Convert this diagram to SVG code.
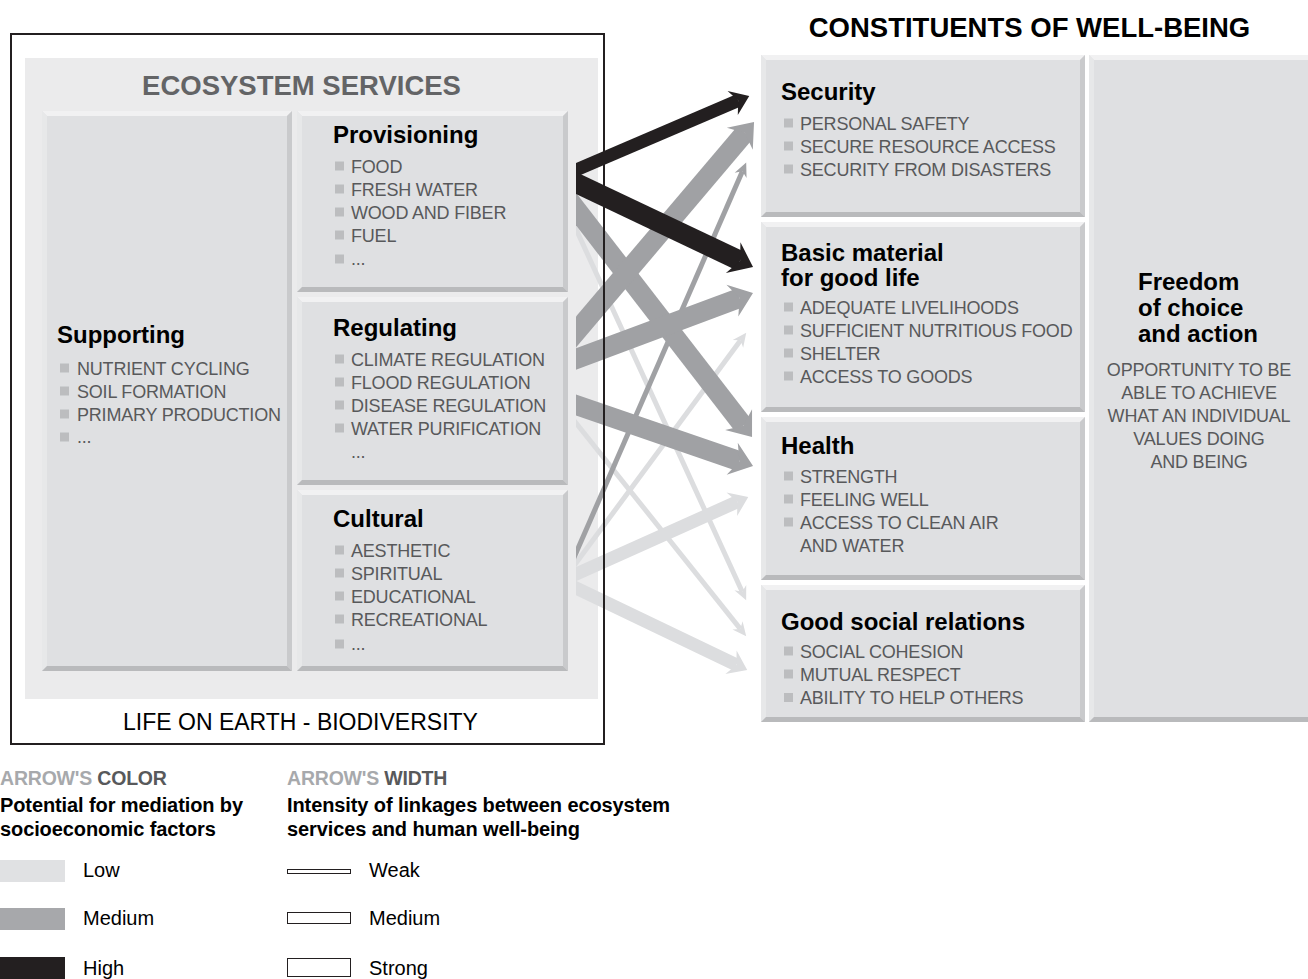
<svg xmlns="http://www.w3.org/2000/svg" width="1308" height="979" viewBox="0 0 1308 979">
<style>
text{font-family:"Liberation Sans",Arial,sans-serif}
.panel{fill:#ebebec}
.bx{fill:#dfe0e2}
.bt{fill:#f1f1f2}
.bl{fill:#e7e8e9}
.br{fill:#c9cacc}
.bb{fill:#b9babc}
.ttl{font-weight:bold;font-size:24px;fill:#000}
.it{font-size:18px;fill:#58595b;letter-spacing:-0.2px}
.bul{fill:#bcbdbf}
.hd{font-weight:bold;font-size:27.5px}
.arr{fill:none;stroke-linecap:butt}
.k{stroke:#231f20}.g{stroke:#a0a1a4}.l{stroke:#dcdddf}
.s{stroke-width:20}.m{stroke-width:13}.w{stroke-width:5}
.lg{font-size:20px;fill:#000}
.lgb{font-size:20px;font-weight:bold;fill:#000;letter-spacing:-0.1px}
.lgh{font-size:19.5px;font-weight:bold;letter-spacing:-0.2px}
</style>
<defs>
<marker id="hk-m" markerUnits="userSpaceOnUse" orient="auto" refX="6" refY="0" markerWidth="20" markerHeight="30" viewBox="0 -15 20 30" overflow="visible"><path d="M18 0L0 -13L6 0L0 13Z" fill="#231f20"/></marker>
<marker id="hk-s" markerUnits="userSpaceOnUse" orient="auto" refX="7.7" refY="0" markerWidth="24" markerHeight="36" viewBox="0 -18 24 36" overflow="visible"><path d="M22 0L0 -17L7.7 0L0 17Z" fill="#231f20"/></marker>
<marker id="hg-s" markerUnits="userSpaceOnUse" orient="auto" refX="7.7" refY="0" markerWidth="24" markerHeight="36" viewBox="0 -18 24 36" overflow="visible"><path d="M22 0L0 -17L7.7 0L0 17Z" fill="#a0a1a4"/></marker>
<marker id="hg-w" markerUnits="userSpaceOnUse" orient="auto" refX="4.5" refY="0" markerWidth="16" markerHeight="16" viewBox="0 -8 16 16" overflow="visible"><path d="M14 0L0 -6.5L4.5 0L0 6.5Z" fill="#a0a1a4"/></marker>
<marker id="hl-w" markerUnits="userSpaceOnUse" orient="auto" refX="4.5" refY="0" markerWidth="16" markerHeight="16" viewBox="0 -8 16 16" overflow="visible"><path d="M14 0L0 -6.5L4.5 0L0 6.5Z" fill="#dcdddf"/></marker>
<marker id="hl-m" markerUnits="userSpaceOnUse" orient="auto" refX="6" refY="0" markerWidth="20" markerHeight="30" viewBox="0 -15 20 30" overflow="visible"><path d="M18 0L0 -13L6 0L0 13Z" fill="#dcdddf"/></marker>
<clipPath id="clipR"><rect x="576" y="0" width="732" height="979"/></clipPath>
</defs>
<rect width="1308" height="979" fill="#fff"/>

<g id="ecosystem-services">
<rect class="panel" x="25" y="58" width="573" height="641"/>
<text class="hd" x="301.5" y="95" text-anchor="middle" fill="#636466">ECOSYSTEM SERVICES</text>
</g>

<g id="supporting">
<rect class="bx" x="42" y="111" width="250" height="560"/>
<polygon class="bt" points="42,111 292,111 287,116 47,116"/>
<polygon class="bl" points="42,111 47,116 47,666 42,671"/>
<polygon class="br" points="292,111 292,671 287,666 287,116"/>
<polygon class="bb" points="42,671 292,671 287,666 47,666"/>
<text class="ttl" x="57" y="343">Supporting</text>
<rect class="bul" x="60" y="363.5" width="9" height="9"/><text class="it" x="77" y="374.5">NUTRIENT CYCLING</text>
<rect class="bul" x="60" y="386.5" width="9" height="9"/><text class="it" x="77" y="397.5">SOIL FORMATION</text>
<rect class="bul" x="60" y="409.5" width="9" height="9"/><text class="it" x="77" y="420.5">PRIMARY PRODUCTION</text>
<rect class="bul" x="60" y="432.5" width="9" height="9"/><text class="it" x="77" y="443">...</text>
</g>

<g id="provisioning">
<rect class="bx" x="297" y="111" width="271" height="181"/>
<polygon class="bt" points="297,111 568,111 563,116 302,116"/>
<polygon class="bl" points="297,111 302,116 302,287 297,292"/>
<polygon class="br" points="568,111 568,292 563,287 563,116"/>
<polygon class="bb" points="297,292 568,292 563,287 302,287"/>
<text class="ttl" x="333" y="143">Provisioning</text>
<rect class="bul" x="335" y="161.5" width="9" height="9"/><text class="it" x="351" y="172.5">FOOD</text>
<rect class="bul" x="335" y="184.5" width="9" height="9"/><text class="it" x="351" y="195.5">FRESH WATER</text>
<rect class="bul" x="335" y="207.5" width="9" height="9"/><text class="it" x="351" y="218.5">WOOD AND FIBER</text>
<rect class="bul" x="335" y="230.5" width="9" height="9"/><text class="it" x="351" y="241.5">FUEL</text>
<rect class="bul" x="335" y="254.5" width="9" height="9"/><text class="it" x="351" y="265">...</text>
</g>

<g id="regulating">
<rect class="bx" x="297" y="297" width="271" height="188"/>
<polygon class="bt" points="297,297 568,297 563,302 302,302"/>
<polygon class="bl" points="297,297 302,302 302,480 297,485"/>
<polygon class="br" points="568,297 568,485 563,480 563,302"/>
<polygon class="bb" points="297,485 568,485 563,480 302,480"/>
<text class="ttl" x="333" y="336">Regulating</text>
<rect class="bul" x="335" y="354.5" width="9" height="9"/><text class="it" x="351" y="365.5">CLIMATE REGULATION</text>
<rect class="bul" x="335" y="377.5" width="9" height="9"/><text class="it" x="351" y="388.5">FLOOD REGULATION</text>
<rect class="bul" x="335" y="400.5" width="9" height="9"/><text class="it" x="351" y="411.5">DISEASE REGULATION</text>
<rect class="bul" x="335" y="423.5" width="9" height="9"/><text class="it" x="351" y="434.5">WATER PURIFICATION</text>
<text class="it" x="351" y="458">...</text>
</g>

<g id="cultural">
<rect class="bx" x="297" y="490" width="271" height="181"/>
<polygon class="bt" points="297,490 568,490 563,495 302,495"/>
<polygon class="bl" points="297,490 302,495 302,666 297,671"/>
<polygon class="br" points="568,490 568,671 563,666 563,495"/>
<polygon class="bb" points="297,671 568,671 563,666 302,666"/>
<text class="ttl" x="333" y="527">Cultural</text>
<rect class="bul" x="335" y="545.5" width="9" height="9"/><text class="it" x="351" y="556.5">AESTHETIC</text>
<rect class="bul" x="335" y="568.5" width="9" height="9"/><text class="it" x="351" y="579.5">SPIRITUAL</text>
<rect class="bul" x="335" y="591.5" width="9" height="9"/><text class="it" x="351" y="602.5">EDUCATIONAL</text>
<rect class="bul" x="335" y="614.5" width="9" height="9"/><text class="it" x="351" y="625.5">RECREATIONAL</text>
<rect class="bul" x="335" y="639.5" width="9" height="9"/><text class="it" x="351" y="650">...</text>
</g>

<g id="life-on-earth">
<text x="300.5" y="730" text-anchor="middle" font-size="23" fill="#000">LIFE ON EARTH - BIODIVERSITY</text>
</g>

<g id="constituents-title">
<text class="hd" x="1029.5" y="37" text-anchor="middle" fill="#000">CONSTITUENTS OF WELL-BEING</text>
</g>

<g id="security">
<rect class="bx" x="761" y="55" width="324" height="162"/>
<polygon class="bt" points="761,55 1085,55 1080,60 766,60"/>
<polygon class="bl" points="761,55 766,60 766,212 761,217"/>
<polygon class="br" points="1085,55 1085,217 1080,212 1080,60"/>
<polygon class="bb" points="761,217 1085,217 1080,212 766,212"/>
<text class="ttl" x="781" y="100">Security</text>
<rect class="bul" x="784" y="118.5" width="9" height="9"/><text class="it" x="800" y="129.5">PERSONAL SAFETY</text>
<rect class="bul" x="784" y="141.5" width="9" height="9"/><text class="it" x="800" y="152.5">SECURE RESOURCE ACCESS</text>
<rect class="bul" x="784" y="164.5" width="9" height="9"/><text class="it" x="800" y="175.5">SECURITY FROM DISASTERS</text>
</g>

<g id="basic-material">
<rect class="bx" x="761" y="222" width="324" height="190"/>
<polygon class="bt" points="761,222 1085,222 1080,227 766,227"/>
<polygon class="bl" points="761,222 766,227 766,407 761,412"/>
<polygon class="br" points="1085,222 1085,412 1080,407 1080,227"/>
<polygon class="bb" points="761,412 1085,412 1080,407 766,407"/>
<text class="ttl" x="781" y="261">Basic material</text>
<text class="ttl" x="781" y="286">for good life</text>
<rect class="bul" x="784" y="302.5" width="9" height="9"/><text class="it" x="800" y="313.5">ADEQUATE LIVELIHOODS</text>
<rect class="bul" x="784" y="325.5" width="9" height="9"/><text class="it" x="800" y="336.5">SUFFICIENT NUTRITIOUS FOOD</text>
<rect class="bul" x="784" y="348.5" width="9" height="9"/><text class="it" x="800" y="359.5">SHELTER</text>
<rect class="bul" x="784" y="371.5" width="9" height="9"/><text class="it" x="800" y="382.5">ACCESS TO GOODS</text>
</g>

<g id="health">
<rect class="bx" x="761" y="417" width="324" height="163"/>
<polygon class="bt" points="761,417 1085,417 1080,422 766,422"/>
<polygon class="bl" points="761,417 766,422 766,575 761,580"/>
<polygon class="br" points="1085,417 1085,580 1080,575 1080,422"/>
<polygon class="bb" points="761,580 1085,580 1080,575 766,575"/>
<text class="ttl" x="781" y="454">Health</text>
<rect class="bul" x="784" y="471.5" width="9" height="9"/><text class="it" x="800" y="482.5">STRENGTH</text>
<rect class="bul" x="784" y="494.5" width="9" height="9"/><text class="it" x="800" y="505.5">FEELING WELL</text>
<rect class="bul" x="784" y="517.5" width="9" height="9"/><text class="it" x="800" y="528.5">ACCESS TO CLEAN AIR</text>
<text class="it" x="800" y="551.5">AND WATER</text>
</g>

<g id="social-relations">
<rect class="bx" x="761" y="585" width="324" height="137"/>
<polygon class="bt" points="761,585 1085,585 1080,590 766,590"/>
<polygon class="bl" points="761,585 766,590 766,717 761,722"/>
<polygon class="br" points="1085,585 1085,722 1080,717 1080,590"/>
<polygon class="bb" points="761,722 1085,722 1080,717 766,717"/>
<text class="ttl" x="781" y="630">Good social relations</text>
<rect class="bul" x="784" y="646.5" width="9" height="9"/><text class="it" x="800" y="657.5">SOCIAL COHESION</text>
<rect class="bul" x="784" y="669.5" width="9" height="9"/><text class="it" x="800" y="680.5">MUTUAL RESPECT</text>
<rect class="bul" x="784" y="693" width="9" height="9"/><text class="it" x="800" y="704">ABILITY TO HELP OTHERS</text>
</g>

<g id="freedom">
<rect class="bx" x="1089" y="55" width="224" height="667"/>
<polygon class="bt" points="1089,55 1313,55 1308,60 1094,60"/>
<polygon class="bl" points="1089,55 1094,60 1094,717 1089,722"/>
<polygon class="bb" points="1089,722 1313,722 1308,717 1094,717"/>
<text class="ttl" x="1138" y="290">Freedom</text>
<text class="ttl" x="1138" y="316">of choice</text>
<text class="ttl" x="1138" y="342">and action</text>
<g text-anchor="middle">
<text class="it" x="1199" y="375.5">OPPORTUNITY TO BE</text>
<text class="it" x="1199" y="398.5">ABLE TO ACHIEVE</text>
<text class="it" x="1199" y="421.5">WHAT AN INDIVIDUAL</text>
<text class="it" x="1199" y="444.5">VALUES DOING</text>
<text class="it" x="1199" y="467.5">AND BEING</text>
</g>
</g>

<g id="connectors" clip-path="url(#clipR)">
<line class="arr l w" x1="556" y1="185.4" x2="742.2" y2="591.7" marker-end="url(#hl-w)"/>
<line class="arr l w" x1="556" y1="397.9" x2="740.3" y2="628.9" marker-end="url(#hl-w)"/>
<line class="arr l w" x1="556" y1="590.1" x2="740.6" y2="340.3" marker-end="url(#hl-w)"/>
<line class="arr l m" x1="556" y1="583" x2="737.3" y2="501.8" marker-end="url(#hl-m)"/>
<line class="arr l m" x1="556" y1="578.4" x2="736.4" y2="664.9" marker-end="url(#hl-m)"/>
<line class="arr g w" x1="556" y1="598.9" x2="742.4" y2="171.3" marker-end="url(#hg-w)"/>
<line class="arr g s" x1="556" y1="183.1" x2="743.3" y2="425.7" marker-end="url(#hg-s)"/>
<line class="arr g s" x1="556" y1="355.6" x2="744.8" y2="132.9" marker-end="url(#hg-s)"/>
<line class="arr g s" x1="556" y1="366.5" x2="739.6" y2="298" marker-end="url(#hg-s)"/>
<line class="arr g s" x1="556" y1="398.1" x2="739.5" y2="461.3" marker-end="url(#hg-s)"/>
<line class="arr k m" x1="556" y1="178.6" x2="738.2" y2="100.6" marker-end="url(#hk-m)"/>
<line class="arr k s" x1="556" y1="173.5" x2="740.1" y2="260.9" marker-end="url(#hk-s)"/>
</g>

<g id="frame">
<rect x="11" y="34" width="593" height="710" fill="none" stroke="#231f20" stroke-width="2"/>
</g>

<g id="legend-color">
<text class="lgh" x="0" y="785"><tspan fill="#a7a9ac">ARROW'S </tspan><tspan fill="#58595b">COLOR</tspan></text>
<text class="lgb" x="0" y="812">Potential for mediation by</text>
<text class="lgb" x="0" y="836">socioeconomic factors</text>
<rect x="0" y="860" width="65" height="22" fill="#e0e1e3"/>
<text class="lg" x="83" y="877">Low</text>
<rect x="0" y="908" width="65" height="22" fill="#a7a8ab"/>
<text class="lg" x="83" y="925">Medium</text>
<rect x="0" y="957" width="65" height="22" fill="#231f20"/>
<text class="lg" x="83" y="975">High</text>
</g>

<g id="legend-width">
<text class="lgh" x="287" y="785"><tspan fill="#a7a9ac">ARROW'S </tspan><tspan fill="#58595b">WIDTH</tspan></text>
<text class="lgb" x="287" y="812">Intensity of linkages between ecosystem</text>
<text class="lgb" x="287" y="836">services and human well-being</text>
<rect x="287.5" y="869.5" width="63" height="4" fill="#fff" stroke="#231f20" stroke-width="1"/>
<text class="lg" x="369" y="877">Weak</text>
<rect x="287.5" y="912.5" width="63" height="11" fill="#fff" stroke="#231f20" stroke-width="1"/>
<text class="lg" x="369" y="925">Medium</text>
<rect x="287.5" y="958.5" width="63" height="18" fill="#fff" stroke="#231f20" stroke-width="1"/>
<text class="lg" x="369" y="975">Strong</text>
</g>
</svg>
